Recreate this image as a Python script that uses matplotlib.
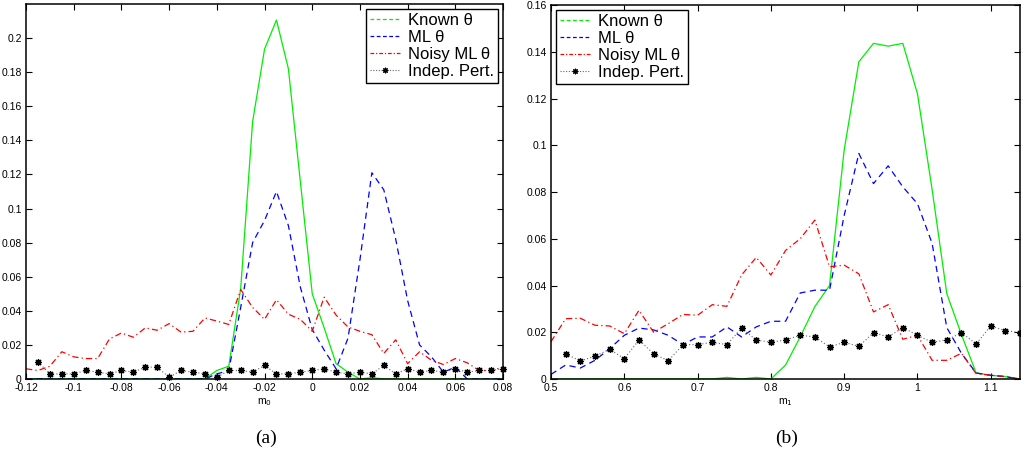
"""
plot.py
=======
Recreates the two-panel density comparison (m_0 and m_1) as out.png.

Usage:
    python3 plot.py
"""

import numpy as np
import matplotlib
matplotlib.use("Agg")
import matplotlib.pyplot as plt
from matplotlib.lines import Line2D
from matplotlib.ticker import FormatStrFormatter


# ============================================================================
# DATA
# ============================================================================

# Panel (a): grid over m_0
m0 = [-0.12, -0.115, -0.11, -0.105, -0.1, -0.095, -0.09, -0.085, -0.08, -0.075,
      -0.07, -0.065, -0.06, -0.055, -0.05, -0.045, -0.04, -0.035, -0.03, -0.025,
      -0.02, -0.015, -0.01, -0.005, 0.0, 0.005, 0.01, 0.015, 0.02, 0.025,
      0.03, 0.035, 0.04, 0.045, 0.05, 0.055, 0.06, 0.065, 0.07, 0.075, 0.08]

known_a = [0, 0, 0, 0, 0, 0, 0, 0, 0, 0,
           0, 0, 0, 0, 0, 0, 0.005, 0.0075, 0.053, 0.151,
           0.1935, 0.2106, 0.182, 0.116, 0.050, 0.030, 0.009, 0.004, 0, 0.0008,
           0, 0, 0, 0, 0, 0, 0, 0, 0, 0, 0]

ml_a = [0, 0, 0, 0, 0, 0, 0, 0, 0, 0,
        0, 0, 0, 0, 0, 0, 0.003, 0.005, 0.042, 0.080,
        0.093, 0.110, 0.090, 0.054, 0.029, 0.017, 0.006, 0.024, 0.070, 0.121,
        0.111, 0.082, 0.046, 0.020, 0.013, 0.004, 0.007, 0, 0, 0, 0]

noisy_a = [0.006, 0.005, 0.0075, 0.016, 0.013, 0.012, 0.012, 0.0235, 0.027, 0.0245,
           0.030, 0.0286, 0.0325, 0.0275, 0.028, 0.0358, 0.034, 0.032, 0.0525, 0.042,
           0.035, 0.0465, 0.038, 0.035, 0.028, 0.048, 0.0375, 0.0305, 0.028, 0.026,
           0.015, 0.023, 0.009, 0.016, 0.011, 0.0085, 0.012, 0.0095, 0.005, 0.005, 0.007]

indep_a = [np.nan, 0.010, 0.003, 0.003, 0.003, 0.005, 0.004, 0.003, 0.005, 0.004,
           0.007, 0.007, 0.001, 0.005, 0.004, 0.003, 0.001, 0.005, 0.005, 0.004,
           0.008, 0.003, 0.003, 0.004, 0.005, 0.006, 0.004, 0.003, 0.004, 0.003,
           0.008, 0.003, 0.006, 0.004, 0.005, 0.004, 0.006, 0.004, 0.005, 0.005, 0.006]

# Panel (b): grid over m_1
m1 = [0.5, 0.52, 0.54, 0.56, 0.58, 0.6, 0.62, 0.64, 0.66, 0.68,
      0.7, 0.72, 0.74, 0.76, 0.78, 0.8, 0.82, 0.84, 0.86, 0.88,
      0.9, 0.92, 0.94, 0.96, 0.98, 1.0, 1.02, 1.04, 1.06, 1.08,
      1.1, 1.12, 1.14]

known_b = [0, 0, 0, 0, 0, 0, 0, 0, 0, 0,
           0, 0, 0.0007, 0, 0.0007, 0, 0.006, 0.018, 0.031, 0.040,
           0.098, 0.1357, 0.1436, 0.1424, 0.1436, 0.122, 0.081, 0.0365, 0.019, 0.0026,
           0.0016, 0.001, 0]

ml_b = [0.002, 0.006, 0.0047, 0.008, 0.013, 0.0187, 0.0218, 0.021, 0.0187, 0.0147,
        0.018, 0.018, 0.0223, 0.018, 0.0223, 0.0247, 0.0247, 0.0368, 0.038, 0.038,
        0.070, 0.0965, 0.0836, 0.0912, 0.0822, 0.075, 0.058, 0.022, 0.011, 0.0026,
        0.0016, 0.001, 0]

noisy_b = [0.016, 0.0258, 0.026, 0.023, 0.0227, 0.0194, 0.0294, 0.020, 0.0237, 0.0276,
           0.0273, 0.0318, 0.0311, 0.0445, 0.052, 0.0445, 0.055, 0.060, 0.068, 0.048,
           0.0487, 0.045, 0.0287, 0.0318, 0.017, 0.0187, 0.008, 0.008, 0.011, 0.0023,
           0.0016, 0.0011, 0]

indep_b = [np.nan, 0.0107, 0.0077, 0.0098, 0.0127, 0.0087, 0.0167, 0.0108, 0.0078, 0.0147,
           0.0147, 0.0157, 0.0147, 0.0218, 0.0167, 0.0157, 0.0167, 0.0187, 0.018, 0.0137,
           0.0157, 0.014, 0.0198, 0.018, 0.022, 0.0187, 0.0157, 0.0167, 0.0198, 0.015,
           0.0227, 0.0207, 0.0198]

a_xticks = [-0.12, -0.1, -0.08, -0.06, -0.04, -0.02, 0, 0.02, 0.04, 0.06, 0.08]
a_yticks = [0, 0.02, 0.04, 0.06, 0.08, 0.1, 0.12, 0.14, 0.16, 0.18, 0.2]
b_xticks = [0.5, 0.6, 0.7, 0.8, 0.9, 1.0, 1.1]
b_yticks = [0, 0.02, 0.04, 0.06, 0.08, 0.1, 0.12, 0.14, 0.16]

LABELS = ["Known \u03b8", "ML \u03b8", "Noisy ML\u2009\u03b8", "Indep. Pert."]


# ============================================================================
# STYLE
# ============================================================================

FONT = "Liberation Sans"
TICK_SIZE = 7.5
LW = 0.9
ASTERISK = (8, 2, 0)

STYLES = {
    "known": dict(color="#00ee00", linestyle="-", linewidth=LW),
    "ml": dict(color="#0000ff", linestyle=(0, (5, 3.5)), linewidth=LW),
    "noisy": dict(color="#ff0000", linestyle=(0, (5, 2.5, 1, 2.5)), linewidth=LW),
    "indep": dict(color="0.4", linestyle=(0, (1, 2)), linewidth=0.8,
                  marker=ASTERISK, markersize=5, markeredgewidth=0.9,
                  markeredgecolor="k", markerfacecolor="k"),
}


def legend_handles():
    """Proxy handles; the legend draws Known theta dashed as in the source."""
    return [
        Line2D([], [], color="#00ee00", linestyle=(0, (3, 2)), linewidth=LW),
        Line2D([], [], color="#0000ff", linestyle=(0, (3, 2)), linewidth=LW),
        Line2D([], [], color="#ff0000", linestyle=(0, (3, 1.5, 1, 1.5)), linewidth=LW),
        Line2D([], [], color="0.4", linestyle=(0, (1, 1.5)), linewidth=0.8,
               marker=ASTERISK, markersize=4, markeredgewidth=0.8,
               markeredgecolor="k"),
    ]


def draw_panel(ax, x, series, xticks, yticks, xlim, ylim, xlabel, legend_loc):
    known, ml, noisy, indep = series
    ax.plot(x, known, **STYLES["known"])
    ax.plot(x, ml, **STYLES["ml"])
    ax.plot(x, noisy, **STYLES["noisy"])
    ax.plot(x, indep, clip_on=False, **STYLES["indep"])

    ax.set_xlim(*xlim)
    ax.set_ylim(*ylim)
    ax.set_xticks(xticks)
    ax.set_yticks(yticks)
    ax.xaxis.set_major_formatter(FormatStrFormatter("%g"))
    ax.yaxis.set_major_formatter(FormatStrFormatter("%g"))
    ax.tick_params(direction="in", top=True, right=True, length=4, width=0.8,
                   labelsize=TICK_SIZE, pad=3)
    for lab in ax.get_xticklabels() + ax.get_yticklabels():
        lab.set_fontfamily(FONT)
    for sp in ax.spines.values():
        sp.set_linewidth(1.1)
    ax.set_xlabel(xlabel, fontsize=TICK_SIZE, family=FONT, labelpad=2)

    leg = ax.legend(legend_handles(), LABELS, loc=legend_loc,
                    prop={"family": FONT, "size": 12},
                    frameon=True, fancybox=False, edgecolor="k",
                    framealpha=1, borderaxespad=0.3, borderpad=0.25,
                    labelspacing=0.12, handlelength=1.8, handletextpad=0.45)
    leg.get_frame().set_linewidth(1.0)


# ============================================================================
# MAIN
# ============================================================================

def main():
    fig = plt.figure(figsize=(10.21, 4.72), dpi=100)
    ax_a = fig.add_axes([0.0255, 0.197, 0.4672, 0.7945])
    ax_b = fig.add_axes([0.5397, 0.197, 0.4594, 0.7924])

    draw_panel(ax_a, m0, (known_a, ml_a, noisy_a, indep_a), a_xticks, a_yticks,
               (-0.12, 0.08), (0, 0.22), "m$_0$", "upper right")
    draw_panel(ax_b, m1, (known_b, ml_b, noisy_b, indep_b), b_xticks, b_yticks,
               (0.5, 1.14), (0, 0.16), "m$_1$", "upper left")

    fig.text(0.2605, 0.072, "(a)", ha="center", va="center",
             family="Liberation Serif", fontsize=14)
    fig.text(0.770, 0.072, "(b)", ha="center", va="center",
             family="Liberation Serif", fontsize=14)

    fig.savefig("out.png", dpi=100)
    plt.close(fig)


if __name__ == "__main__":
    main()
